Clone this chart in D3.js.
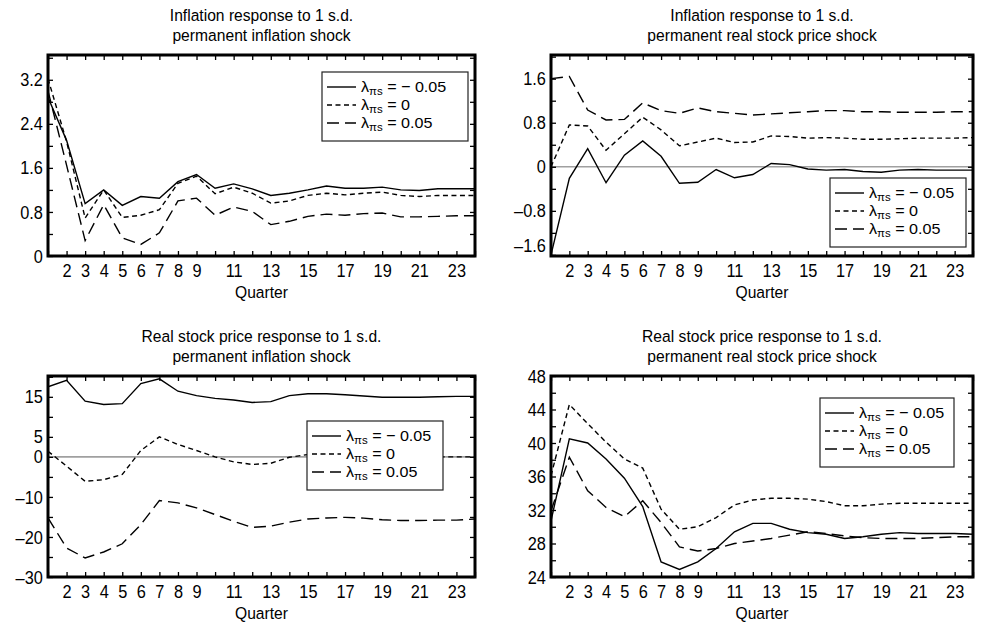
<!DOCTYPE html>
<html>
<head>
<meta charset="utf-8">
<script src="https://cdn.jsdelivr.net/npm/d3@7"></script>
<style>
  body { margin: 0; background: #fff; }
  svg { font-family: "Liberation Sans", Arial, sans-serif; }
</style>
</head>
<body>
<svg id="chart" width="981" height="625"></svg>
<script>
// Quarters on the x axis and which of them get a label
const quarters = d3.range(1, 25);
const quarterLabels = [2, 3, 4, 5, 6, 7, 8, 9, 11, 13, 15, 17, 19, 21, 23];

// legend entries: lambda_pi_s values
const lambdaLabels = ["= \u2212 0.05", "= 0", "= 0.05"];

// Inflation response to inflation shock
const inflInflNeg  = [2.88, 2.1, 0.95, 1.2, 0.92, 1.08, 1.05, 1.35, 1.48, 1.23, 1.31, 1.22, 1.1, 1.14, 1.2, 1.27, 1.23, 1.23, 1.25, 1.2, 1.19, 1.22, 1.22, 1.22];
const inflInflZero = [3.22, 2.08, 0.69, 1.2, 0.7, 0.74, 0.84, 1.32, 1.45, 1.13, 1.25, 1.14, 0.96, 1.0, 1.1, 1.14, 1.11, 1.14, 1.16, 1.1, 1.08, 1.1, 1.1, 1.1];
const inflInflPos  = [3.0, 1.65, 0.28, 0.93, 0.33, 0.21, 0.42, 1.0, 1.05, 0.74, 0.89, 0.81, 0.57, 0.63, 0.72, 0.76, 0.74, 0.77, 0.78, 0.71, 0.71, 0.72, 0.73, 0.73];

// Inflation response to real stock price shock
const inflStockNeg  = [-1.6, -0.21, 0.33, -0.29, 0.21, 0.47, 0.19, -0.3, -0.28, -0.05, -0.2, -0.14, 0.06, 0.04, -0.04, -0.06, -0.05, -0.085, -0.1, -0.06, -0.05, -0.06, -0.06, -0.06];
const inflStockZero = [0.0, 0.76, 0.74, 0.3, 0.6, 0.9, 0.67, 0.38, 0.45, 0.52, 0.44, 0.45, 0.56, 0.55, 0.52, 0.53, 0.52, 0.5, 0.5, 0.51, 0.52, 0.52, 0.52, 0.53];
const inflStockPos  = [1.6, 1.64, 1.03, 0.85, 0.86, 1.16, 1.02, 0.97, 1.07, 1.0, 0.97, 0.94, 0.96, 0.98, 1.0, 1.02, 1.02, 1.0, 1.0, 0.99, 0.99, 0.99, 1.0, 1.0];

// Real stock price response to inflation shock
const stockInflNeg  = [17.5, 19.1, 13.9, 13.1, 13.3, 18.3, 19.5, 16.4, 15.3, 14.6, 14.2, 13.6, 13.8, 15.3, 15.75, 15.75, 15.5, 15.2, 14.9, 14.9, 14.9, 15.0, 15.1, 15.1];
const stockInflZero = [1.4, -2.3, -6.1, -5.7, -4.4, 1.6, 5.0, 3.1, 1.6, 0.0, -1.25, -1.9, -1.6, -0.1, 0.6, 0.5, 0.3, 0.1, 0.0, -0.1, -0.1, 0.0, 0.0, 0.0];
const stockInflPos  = [-15.25, -22.75, -25.25, -23.75, -21.7, -16.9, -10.9, -11.5, -12.75, -14.4, -16.1, -17.6, -17.3, -16.3, -15.5, -15.25, -15.1, -15.3, -15.7, -15.9, -15.9, -15.8, -15.8, -15.5];

// Real stock price response to real stock price shock
const stockStockNeg  = [30.7, 40.5, 40.0, 38.1, 35.8, 32.4, 25.8, 24.9, 25.8, 27.4, 29.4, 30.4, 30.4, 29.7, 29.3, 29.1, 28.6, 28.8, 29.1, 29.3, 29.2, 29.2, 29.2, 29.1];
const stockStockZero = [36.1, 44.6, 42.3, 40.1, 38.1, 37.0, 32.1, 29.7, 30.0, 31.1, 32.6, 33.2, 33.4, 33.4, 33.3, 33.0, 32.5, 32.5, 32.7, 32.8, 32.8, 32.8, 32.8, 32.8];
const stockStockPos  = [31.9, 38.3, 34.3, 32.3, 31.2, 33.1, 30.5, 27.6, 27.1, 27.4, 28.0, 28.3, 28.6, 29.0, 29.4, 29.2, 28.9, 28.7, 28.6, 28.6, 28.6, 28.7, 28.8, 28.8];

// y tick labels per panel
const inflInflTicks   = [0, 0.8, 1.6, 2.4, 3.2];
const inflStockTicks  = [-1.6, -0.8, 0, 0.8, 1.6];
const stockInflTicks  = [-30, -20, -10, 0, 5, 15];
const stockStockTicks = [24, 28, 32, 36, 40, 44, 48];

const dashes = [null, "5,3.5", "12,6"];

const panels = [
    { title: ["Inflation response to 1 s.d.", "permanent inflation shock"],
      left: 48, right: 475, top: 55, bottom: 256,
      yDomain: [0, 3.65], minor: d3.range(0, 3.61, 0.4), labels: inflInflTicks,
      series: [inflInflNeg, inflInflZero, inflInflPos], zero: false,
      legend: { x: 322, y: 72, w: 146 } },
    { title: ["Inflation response to 1 s.d.", "permanent real stock price shock"],
      left: 551, right: 973, top: 55, bottom: 256,
      yDomain: [-1.62, 2.03], minor: d3.range(-1.6, 2.01, 0.4), labels: inflStockTicks,
      series: [inflStockNeg, inflStockZero, inflStockPos], zero: true,
      legend: { x: 830, y: 178, w: 136 }, nudge: -1.6 },
    { title: ["Real stock price response to 1 s.d.", "permanent inflation shock"],
      left: 48, right: 475, top: 376, bottom: 577,
      yDomain: [-30, 20.2], minor: d3.range(-30, 20.1, 5), labels: stockInflTicks,
      series: [stockInflNeg, stockInflZero, stockInflPos], zero: true,
      legend: { x: 307, y: 421, w: 136 } },
    { title: ["Real stock price response to 1 s.d.", "permanent real stock price shock"],
      left: 551, right: 973, top: 376, bottom: 577,
      yDomain: [24, 48], minor: d3.range(24, 48.1, 2), labels: stockStockTicks,
      series: [stockStockNeg, stockStockZero, stockStockPos], zero: false,
      legend: { x: 820, y: 398, w: 134 } }
];

const svg = d3.select("#chart");
const fmt = v => (v < 0 ? "\u2013" : "") + d3.format("~g")(Math.abs(v));
const isLabel = (list, v) => list.some(l => Math.abs(l - v) < 1e-6);

// narrow text: Liberation Sans squeezed horizontally to look like a condensed face
function narrowText(parent, x, y, str, size, squeeze) {
    return parent.append("text")
        .attr("transform", `translate(${x},${y}) scale(${squeeze},1)`)
        .attr("text-anchor", "middle")
        .style("font-size", size + "px")
        .text(str);
}

panels.forEach((p, i) => {
    const g = svg.append("g");
    const x = d3.scaleLinear().domain([1, 24]).range([p.left, p.right]);
    const y = d3.scaleLinear().domain(p.yDomain).range([p.bottom, p.top]);
    const cx = (p.left + p.right) / 2;

    // title
    narrowText(g, cx, p.top - 34, p.title[0], 17, 0.92);
    narrowText(g, cx, p.top - 14, p.title[1], 17, 0.92);

    const clipId = "clip" + i;
    g.append("clipPath").attr("id", clipId).append("rect")
        .attr("x", p.left).attr("y", p.top)
        .attr("width", p.right - p.left).attr("height", p.bottom - p.top);

    if (p.zero) {
        g.append("line")
            .attr("x1", p.left).attr("x2", p.right)
            .attr("y1", y(0)).attr("y2", y(0))
            .attr("stroke", "#a0a0a0").attr("stroke-width", 1.6);
    }

    const line = d3.line().x((d, j) => x(quarters[j])).y(d => y(d));
    p.series.forEach((s, k) => {
        g.append("path")
            .datum(s)
            .attr("clip-path", `url(#${clipId})`)
            .attr("fill", "none")
            .attr("stroke", "#000")
            .attr("stroke-width", 1.4)
            .attr("stroke-dasharray", dashes[k])
            .attr("d", line);
    });

    // legend
    const lg = g.append("g").attr("transform", `translate(${p.legend.x},${p.legend.y})`);
    lg.append("rect").attr("width", p.legend.w).attr("height", 69)
        .attr("fill", "#fff").attr("stroke", "#222").attr("stroke-width", 1.2);
    lambdaLabels.forEach((lab, k) => {
        const ry = 15 + k * 18;
        lg.append("line").attr("x1", 5).attr("x2", 34).attr("y1", ry).attr("y2", ry)
            .attr("stroke", "#000").attr("stroke-width", 1.4)
            .attr("stroke-dasharray", dashes[k]);
        const t = lg.append("text")
            .attr("transform", `translate(39,${ry + 5}) scale(1.04,1)`)
            .style("font-size", "15.5px");
        t.append("tspan").text("\u03bb");
        t.append("tspan").attr("dy", 3).style("font-size", "11px").text("\u03c0s");
        t.append("tspan").attr("dy", -3).text(" " + lab);
    });

    // axes: ticks pointing inward on all four sides
    const xb = g.append("g").attr("transform", `translate(0,${p.bottom})`)
        .call(d3.axisBottom(x).tickValues(quarters).tickSizeInner(-5).tickSizeOuter(0).tickPadding(8)
            .tickFormat(d => quarterLabels.includes(d) ? d : ""));
    g.append("g").attr("transform", `translate(0,${p.top})`)
        .call(d3.axisTop(x).tickValues(quarters).tickSizeInner(-5).tickSizeOuter(0).tickFormat(""));
    const yl = g.append("g").attr("transform", `translate(${p.left},0)`)
        .call(d3.axisLeft(y).tickValues(p.minor).tickSizeInner(-5).tickSizeOuter(0).tickPadding(6)
            .tickFormat(d => isLabel(p.labels, d) ? fmt(Math.round(d * 10) / 10) : ""));
    g.append("g").attr("transform", `translate(${p.right},0)`)
        .call(d3.axisRight(y).tickValues(p.minor).tickSizeInner(-5).tickSizeOuter(0).tickFormat(""));

    g.selectAll(".domain").remove();
    g.selectAll(".tick line").attr("stroke", "#000").attr("stroke-width", 1.3);
    g.selectAll(".tick text")
        .style("font-size", "19px").style("font-family", '"Liberation Sans", Arial, sans-serif')
        .attr("fill", "#000");
    xb.selectAll(".tick text").attr("transform", "scale(0.86,1)").attr("dy", "0.68em");
    yl.selectAll(".tick text").attr("transform", "scale(0.86,1)");
    if (p.nudge !== undefined) {
        yl.selectAll(".tick").filter(d => Math.abs(d - p.nudge) < 1e-6)
            .select("text").attr("dy", "-0.2em");
    }

    // frame
    g.append("rect")
        .attr("x", p.left).attr("y", p.top)
        .attr("width", p.right - p.left).attr("height", p.bottom - p.top)
        .attr("fill", "none").attr("stroke", "#000").attr("stroke-width", 3);

    narrowText(g, cx, p.bottom + 42, "Quarter", 17, 0.92);
});
</script>
</body>
</html>
